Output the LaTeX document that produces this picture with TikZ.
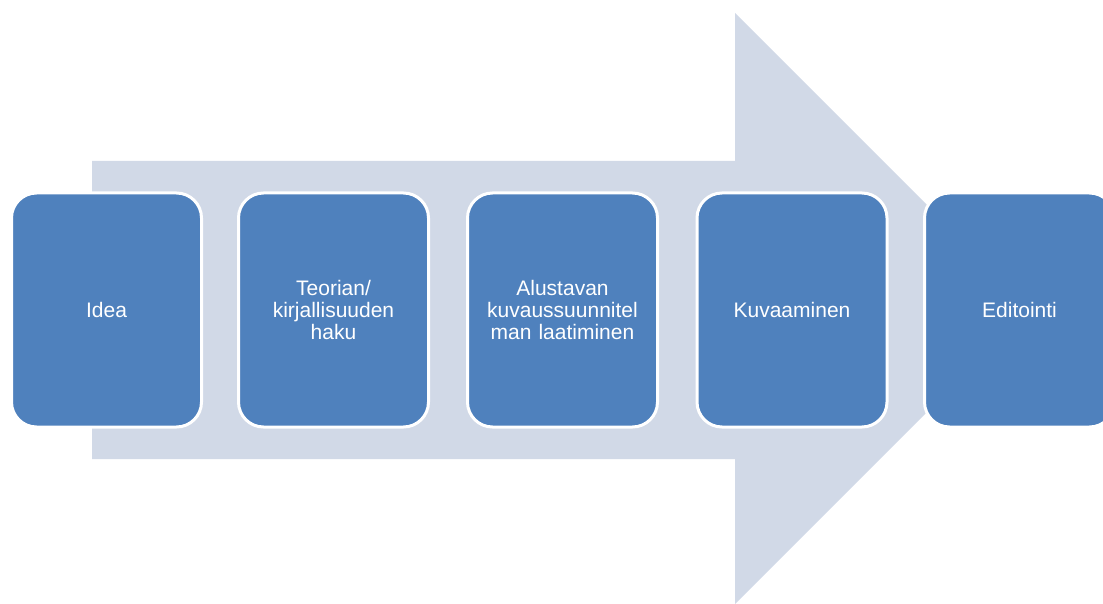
\documentclass[tikz,border=0pt]{standalone}
\usepackage{fontspec}
\setmainfont{Liberation Sans}
\definecolor{arrowfill}{HTML}{D1D9E7}
\definecolor{boxfill}{HTML}{4F81BD}
\begin{document}
\begin{tikzpicture}[x=1pt,y=-1pt,
  stepbox/.style={draw=white, line width=3pt, fill=boxfill, rounded corners=25pt,
    minimum width=190pt, minimum height=234pt, text width=178pt, align=center,
    text=white, font=\fontsize{21}{22}\selectfont, inner sep=0pt}]
\useasboundingbox (0,0) rectangle (1103,604);
\clip (0,0) rectangle (1103,604);
\fill[arrowfill] (92,161) -- (735,161) -- (735,13) -- (1030.5,308.5) -- (735,604) -- (735,459) -- (92,459) -- cycle;
\node[stepbox] (s1) at (106.5,310) {Idea};
\node[stepbox] (s2) at (333.5,310) {Teorian/\\kirjallisuuden\\haku};
\node[stepbox] (s3) at (562.5,310) {Alustavan\\kuvaussuunnitel\\man laatiminen};
\node[stepbox] (s4) at (792,310) {Kuvaaminen};
\node[stepbox] (s5) at (1019.5,310) {Editointi};
\end{tikzpicture}
\end{document}
